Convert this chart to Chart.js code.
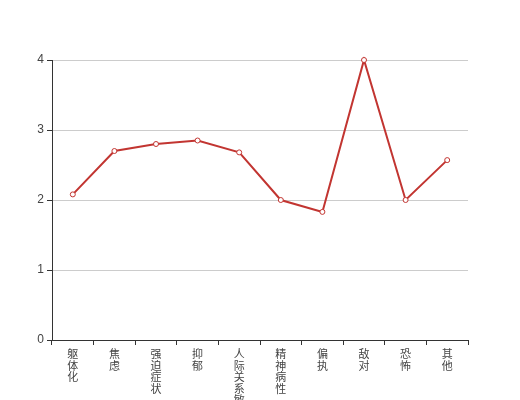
<!DOCTYPE html>
<html>
<head>
<meta charset="utf-8">
<script src="https://cdn.jsdelivr.net/npm/chart.js@4"></script>
<style>
  html, body { margin: 0; padding: 0; background: #fff; }
  #wrap { width: 520px; height: 400px; }
</style>
</head>
<body>
<div id="wrap"><canvas id="myChart" width="520" height="400"></canvas></div>
<script>
// 카테고리 / 값
const categories = ['躯体化', '焦虑', '强迫症状', '抑郁', '人际关系敏感', '精神病性', '偏执', '敌对', '恐怖', '其他'];
const scores = [2.08, 2.70, 2.80, 2.85, 2.68, 2.00, 1.83, 4.00, 2.00, 2.57];
const yTicks = [0, 1, 2, 3, 4];

// 세로 라벨: 글자 하나씩 줄바꿈
const labels = categories.map(c => c.split(''));

const ctx = document.getElementById('myChart').getContext('2d');
const axisColor = '#333';

new Chart(ctx, {
  type: 'line',
  data: {
    labels: labels,
    datasets: [{
      data: scores,
      borderColor: '#c23531',
      borderWidth: 2,
      pointRadius: 2.5,
      pointBorderWidth: 1,
      pointBackgroundColor: '#fff',
      pointBorderColor: '#c23531',
      tension: 0,
      fill: false,
      clip: false
    }]
  },
  options: {
    responsive: false,
    animation: false,
    layout: { padding: { top: 60, right: 52, left: 0, bottom: 0 } },
    plugins: { legend: { display: false }, tooltip: { enabled: false } },
    scales: {
      x: {
        offset: true,
        border: { display: true, color: axisColor, width: 1 },
        grid: {
          offset: true,
          drawOnChartArea: false,
          drawTicks: true,
          tickLength: 5,
          tickColor: axisColor
        },
        ticks: {
          color: '#444',
          maxRotation: 0,
          minRotation: 0,
          autoSkip: false,
          padding: 3,
          font: { family: '"Noto Sans CJK SC", sans-serif', size: 11, lineHeight: 1.05 }
        },
        afterFit: s => { s.height = 60; }
      },
      y: {
        min: 0,
        max: 4,
        afterBuildTicks: s => { s.ticks = yTicks.map(v => ({ value: v })); },
        border: { display: true, color: axisColor, width: 1 },
        grid: {
          color: '#ccc',
          tickColor: axisColor,
          tickLength: 5,
          drawTicks: true
        },
        ticks: {
          color: '#444',
          padding: 3,
          font: { family: '"Liberation Sans", Arial, sans-serif', size: 12 }
        },
        afterFit: s => { s.width = 52; }
      }
    }
  }
});
</script>
</body>
</html>
